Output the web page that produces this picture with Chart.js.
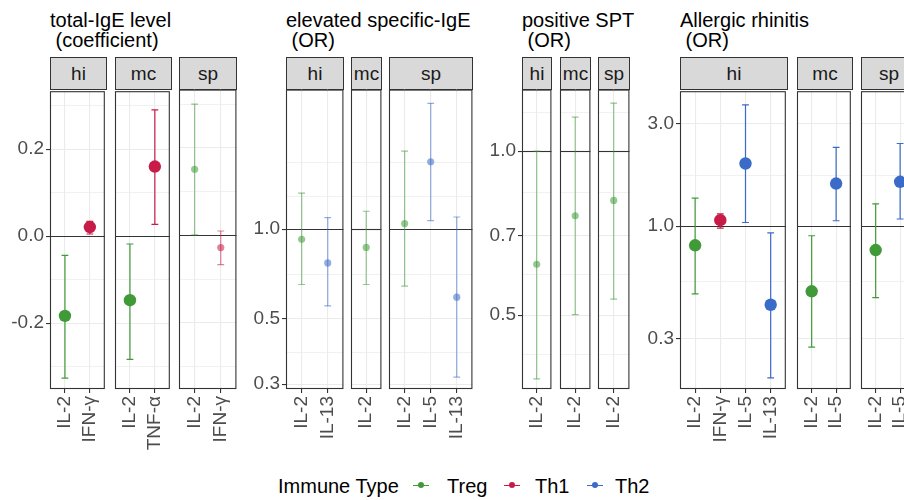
<!DOCTYPE html>
<html><head><meta charset="utf-8">
<script src="https://cdn.jsdelivr.net/npm/chart.js@4.4.1/dist/chart.umd.min.js"></script>
<style>
html,body{margin:0;padding:0;background:#fff;overflow:hidden;width:904px;height:500px;}
#root{position:relative;width:904px;height:500px;overflow:hidden;font-family:"Liberation Sans",Arial,sans-serif;}
.title{position:absolute;top:10px;font-size:20px;line-height:20px;color:#000;white-space:pre;}
.strip{position:absolute;top:57px;height:33px;box-sizing:border-box;background:#d9d9d9;border:1px solid #333;text-align:center;font-size:19px;color:#1a1a1a;line-height:31px;}
canvas{position:absolute;}
.leg{position:absolute;top:476px;font-size:20px;line-height:20px;color:#000;white-space:nowrap;}
.key{position:absolute;height:1.3px;width:16px;top:484.5px;}
.dot{position:absolute;width:6px;height:6px;border-radius:50%;top:482px;}
</style></head><body><div id="root"></div>
<script>
// ---------- data ----------
const cytokines    = ['IL-2', 'IFN-γ', 'TNF-α', 'IL-5', 'IL-13'];
const cytokineType = ['Treg', 'Th1',   'Th1',   'Th2',  'Th2'];
const immuneTypes  = ['Treg', 'Th1', 'Th2'];
const facetNames   = ['hi', 'mc', 'sp'];

// total-IgE level (coefficient)
const igeFacet = ['hi', 'hi', 'mc', 'mc', 'sp', 'sp'];
const igeCyto  = ['IL-2', 'IFN-γ', 'IL-2', 'TNF-α', 'IL-2', 'IFN-γ'];
const igeEst   = [-0.183, 0.021, -0.147, 0.160, 0.151, -0.028];
const igeLow   = [-0.326, 0.005, -0.283, 0.027, 0.001, -0.067];
const igeUpp   = [-0.044, 0.034, -0.018, 0.290, 0.300, 0.010];
const igeSig   = [1, 1, 1, 1, 0, 0];
const igeTicks = [-0.2, 0.0, 0.2];
const igeMinor = [-0.3, -0.1, 0.1, 0.3];
const igeRange = [-0.351, 0.333];

// elevated specific-IgE (OR)
const sigeFacet = ['hi', 'hi', 'mc', 'sp', 'sp', 'sp'];
const sigeCyto  = ['IL-2', 'IL-13', 'IL-2', 'IL-2', 'IL-5', 'IL-13'];
const sigeEst   = [0.925, 0.770, 0.868, 1.045, 1.690, 0.590];
const sigeLow   = [0.651, 0.551, 0.651, 0.643, 1.070, 0.317];
const sigeUpp   = [1.325, 1.095, 1.150, 1.835, 2.660, 1.100];
const sigeSig   = [0, 0, 0, 0, 0, 0];
const sigeTicks = [0.3, 0.5, 1.0];
const sigeMinor = [0.385, 0.705, 1.29, 1.68];
const sigeRange = [0.289, 2.96];

// positive SPT (OR)
const sptFacet = ['hi', 'mc', 'sp'];
const sptCyto  = ['IL-2', 'IL-2', 'IL-2'];
const sptEst   = [0.620, 0.761, 0.812];
const sptLow   = [0.382, 0.501, 0.535];
const sptUpp   = [1.000, 1.155, 1.225];
const sptSig   = [0, 0, 0];
const sptTicks = [0.5, 0.7, 1.0];
const sptMinor = [0.424, 0.594, 0.838, 1.176];
const sptRange = [0.366, 1.297];

// Allergic rhinitis (OR)
const arFacet = ['hi', 'hi', 'hi', 'hi', 'mc', 'mc', 'sp', 'sp'];
const arCyto  = ['IL-2', 'IFN-γ', 'IL-5', 'IL-13', 'IL-2', 'IL-5', 'IL-2', 'IL-5'];
const arEst   = [0.814, 1.066, 1.96, 0.430, 0.497, 1.58, 0.774, 1.61];
const arLow   = [0.483, 0.980, 1.04, 0.196, 0.273, 1.06, 0.464, 1.08];
const arUpp   = [1.350, 1.140, 3.68, 0.930, 0.902, 2.33, 1.270, 2.43];
const arSig   = [1, 1, 1, 1, 1, 1, 1, 1];
const arTicks = [0.3, 1.0, 3.0];
const arMinor = [0.55, 1.73];
const arRange = [0.174, 4.26];

// ---------- styling / layout ----------
const TYPE_COLORS = {Treg: '#409A38', Th1: '#C81C48', Th2: '#3A6BC8'};
Chart.defaults.font.family = '"Liberation Sans", Arial, sans-serif';

const groups = [
  {title: 'total-IgE level\n (coefficient)', log: false, ref: 0, facet: igeFacet, cyto: igeCyto, est: igeEst, low: igeLow, upp: igeUpp, sig: igeSig, ticks: igeTicks, minor: igeMinor, range: igeRange},
  {title: 'elevated specific-IgE\n (OR)', log: true, ref: 1, facet: sigeFacet, cyto: sigeCyto, est: sigeEst, low: sigeLow, upp: sigeUpp, sig: sigeSig, ticks: sigeTicks, minor: sigeMinor, range: sigeRange},
  {title: 'positive SPT\n (OR)', log: true, ref: 1, facet: sptFacet, cyto: sptCyto, est: sptEst, low: sptLow, upp: sptUpp, sig: sptSig, ticks: sptTicks, minor: sptMinor, range: sptRange},
  {title: 'Allergic rhinitis\n (OR)', log: true, ref: 1, facet: arFacet, cyto: arCyto, est: arEst, low: arLow, upp: arUpp, sig: arSig, ticks: arTicks, minor: arMinor, range: arRange}
];
const facetBoxes = [
  [[50, 107], [115, 172], [179, 237]],
  [[286, 344], [351, 382], [389, 473]],
  [[522, 552], [560, 591], [598, 630]],
  [[680, 788], [797, 853], [861, 917]]
];
const PANEL_TOP = 89, PANEL_H = 300, AXW = 60, AXH = 70, PADT = 4, PADR = 4;

const root = document.getElementById('root');

function rgba(hex, a) {
  const n = parseInt(hex.slice(1), 16);
  return `rgba(${(n >> 16) & 255},${(n >> 8) & 255},${n & 255},${a})`;
}

const panelPlugin = {
  id: 'panelDeco',
  beforeDatasetsDraw(chart, args, opts) {
    const {ctx, chartArea: a} = chart;
    const y = chart.scales.y;
    const py = Math.round(y.getPixelForValue(opts.ref)) + 0.5;
    ctx.save();
    ctx.strokeStyle = '#333';
    ctx.lineWidth = 1.1;
    ctx.beginPath(); ctx.moveTo(a.left, py); ctx.lineTo(a.right, py); ctx.stroke();
    ctx.restore();
  },
  afterDraw(chart) {
    const {ctx, chartArea: a} = chart;
    ctx.save();
    ctx.strokeStyle = '#333';
    ctx.lineWidth = 1.1;
    ctx.strokeRect(a.left + 0.5, a.top + 0.5, a.right - a.left - 1, a.bottom - a.top - 1);
    ctx.restore();
  }
};

function zeroPad(s) { s.paddingLeft = 0; s.paddingRight = 0; s.paddingTop = 0; s.paddingBottom = 0; }

groups.forEach((g, gi) => {
  const t = document.createElement('div');
  t.className = 'title';
  t.style.left = facetBoxes[gi][0][0] + 'px';
  t.textContent = g.title;
  root.appendChild(t);

  facetNames.forEach((fname, fi) => {
    const [L, R] = facetBoxes[gi][fi];
    const idx = g.facet.map((f, i) => f === fname ? i : -1).filter(i => i >= 0);
    const cats = idx.map(i => g.cyto[i]);
    const n = cats.length;
    const showY = fi === 0;

    const strip = document.createElement('div');
    strip.className = 'strip';
    strip.style.left = L + 'px';
    strip.style.width = (R - L) + 'px';
    strip.textContent = fname;
    root.appendChild(strip);

    const W = R - L + AXW + PADR, H = PANEL_H + PADT + AXH;
    const cv = document.createElement('canvas');
    cv.width = W; cv.height = H;
    cv.style.left = (L - AXW) + 'px';
    cv.style.top = (PANEL_TOP - PADT) + 'px';
    cv.style.width = W + 'px';
    cv.style.height = H + 'px';
    root.appendChild(cv);

    const cols = idx.map(i => {
      const base = TYPE_COLORS[cytokineType[cytokines.indexOf(g.cyto[i])]];
      return g.sig[i] ? base : rgba(base, 0.55);
    });
    const radii = idx.map(i => g.sig[i] ? 6.2 : 3.6);

    const datasets = [{
      type: 'scatter',
      data: idx.map((i, k) => ({x: k, y: g.est[i]})),
      pointRadius: radii, pointHoverRadius: radii,
      pointBackgroundColor: cols, pointBorderWidth: 0, showLine: false
    }];
    idx.forEach((i, k) => {
      datasets.push({
        type: 'line',
        data: [{x: k, y: g.low[i]}, {x: k, y: g.upp[i]}],
        borderColor: cols[k], borderWidth: 1.2,
        pointStyle: 'line', pointRadius: 3.4, pointHoverRadius: 3.4,
        pointBorderColor: cols[k], pointBorderWidth: 1.2
      });
    });

    const yTicks = g.ticks.map(v => ({value: v, minor: false}))
      .concat(g.minor.map(v => ({value: v, minor: true})))
      .sort((a, b) => a.value - b.value);

    new Chart(cv, {
      type: 'scatter',
      data: {datasets},
      plugins: [panelPlugin],
      options: {
        responsive: false, animation: false, events: [],
        layout: {padding: {left: 0, top: PADT, right: PADR, bottom: 0}},
        plugins: {legend: {display: false}, tooltip: {enabled: false}, panelDeco: {ref: g.ref}},
        scales: {
          x: {
            type: 'linear', min: -0.6, max: n - 1 + 0.6,
            afterBuildTicks: s => { s.ticks = cats.map((c, k) => ({value: k})); },
            afterFit: s => { s.height = AXH; zeroPad(s); },
            ticks: {autoSkip: false, minRotation: 90, maxRotation: 90, padding: 3, color: '#4d4d4d',
                    font: {size: 19}, callback: (v, i) => cats[i]},
            grid: {color: '#ebebeb', lineWidth: 1.1, drawTicks: true, tickLength: 4, tickColor: '#333', tickWidth: 1.1},
            border: {display: false}
          },
          y: {
            type: g.log ? 'logarithmic' : 'linear',
            min: g.range[0], max: g.range[1],
            afterBuildTicks: s => { s.ticks = yTicks.map(o => ({value: o.value, minor: o.minor})); },
            afterFit: s => { s.width = AXW; zeroPad(s); },
            ticks: {display: showY, autoSkip: false, padding: 2, color: '#4d4d4d', font: {size: 19},
                    callback: (v, i, tk) => (tk[i] && tk[i].minor) ? '' : Number(v).toFixed(1)},
            grid: {
              color: '#ebebeb',
              lineWidth: c => (c.tick && c.tick.minor) ? 0.7 : 1.1,
              drawTicks: showY, tickLength: 4,
              tickColor: c => (c.tick && c.tick.minor) ? 'rgba(0,0,0,0)' : '#333',
              tickWidth: 1.1
            },
            border: {display: false}
          }
        }
      }
    });
  });
});

// legend
const legTitle = document.createElement('div');
legTitle.className = 'leg';
legTitle.style.left = '278px';
legTitle.textContent = 'Immune Type';
root.appendChild(legTitle);
const keyCenters = [421, 512, 595];
const textLefts = [447, 535, 615];
immuneTypes.forEach((tp, i) => {
  const k = document.createElement('div');
  k.className = 'key';
  k.style.left = (keyCenters[i] - 8) + 'px';
  k.style.background = TYPE_COLORS[tp];
  root.appendChild(k);
  const d = document.createElement('div');
  d.className = 'dot';
  d.style.left = (keyCenters[i] - 3) + 'px';
  d.style.background = TYPE_COLORS[tp];
  root.appendChild(d);
  const tx = document.createElement('div');
  tx.className = 'leg';
  tx.style.left = textLefts[i] + 'px';
  tx.textContent = tp;
  root.appendChild(tx);
});
</script></body></html>
